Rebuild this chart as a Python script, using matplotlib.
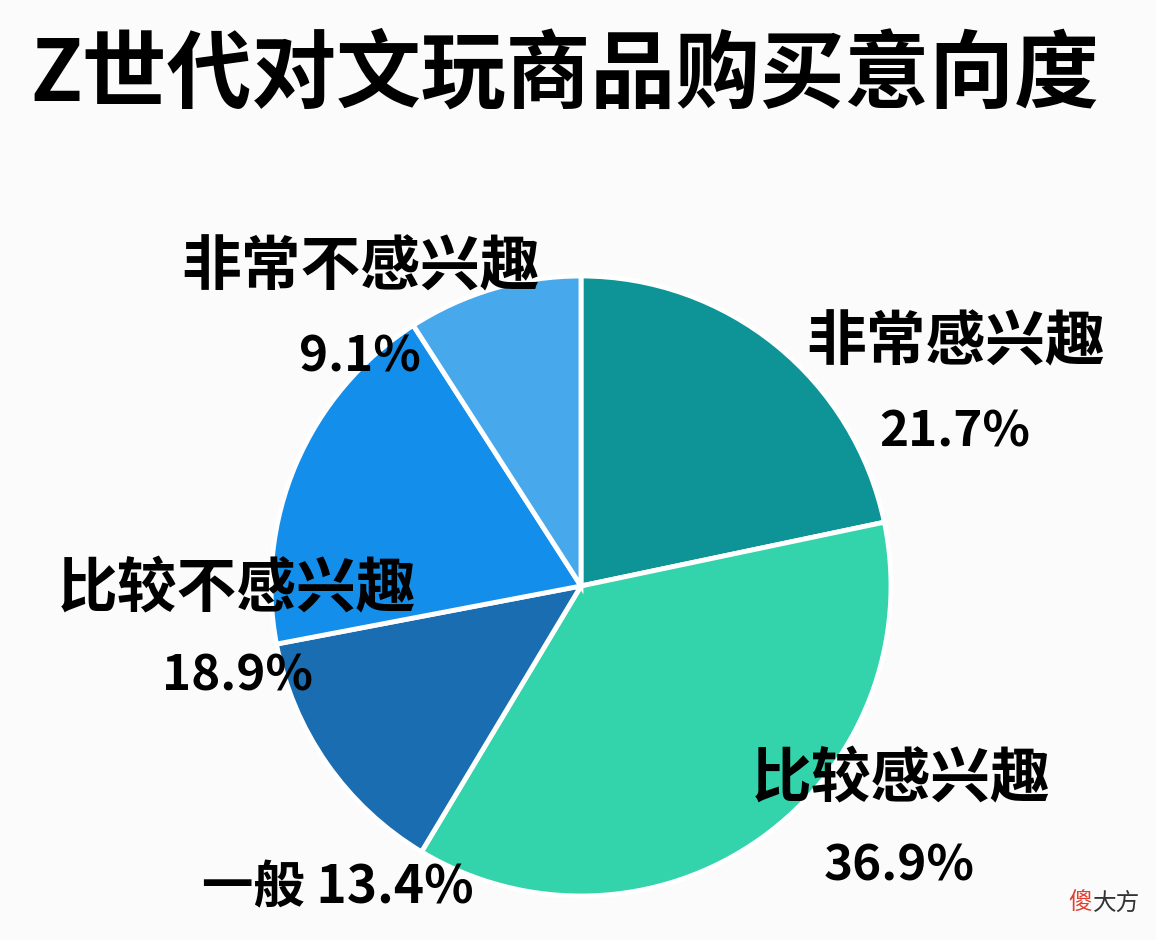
import matplotlib.pyplot as plt

plt.rcParams['font.family'] = ['Noto Sans CJK SC', 'DejaVu Sans']

# 数据
labels = ['非常感兴趣', '比较感兴趣', '一般', '比较不感兴趣', '非常不感兴趣']
values = [21.7, 36.9, 13.4, 18.9, 9.1]
colors = ['#0E9497', '#33D3AC', '#1A6DB0', '#138EEA', '#47A9EC']

W, H = 1156, 940
fig = plt.figure(figsize=(W / 100, H / 100), dpi=100)
fig.patch.set_facecolor('#FCFBFC')
ax = fig.add_axes([0, 0, 1, 1])
ax.set_aspect('equal')
ax.axis('off')

ax.pie(values, colors=colors, startangle=90, counterclock=False,
       center=(581, H - 586), radius=310,
       wedgeprops=dict(edgecolor='white', linewidth=3.5))
ax.set_xlim(0, W)
ax.set_ylim(0, H)

# 标题
ax.text(565, H - 75, 'Z世代对文玩商品购买意向度', fontsize=61, fontweight='black',
        ha='center', va='center', color='black')

# 标签位置 (像素)
label_pos = {
    '非常感兴趣': ((956, 343), (955, 432)),
    '比较感兴趣': ((901, 780), (899, 866)),
    '比较不感兴趣': ((237, 590), (237, 676)),
    '非常不感兴趣': ((361, 268), (360, 357)),
}
for name, val in zip(labels, values):
    if name == '一般':
        ax.text(338, H - 888, f'{name} {val}%', fontsize=37, fontweight='bold',
                ha='center', va='center')
        continue
    (lx, ly), (px, py) = label_pos[name]
    ax.text(lx, H - ly, name, fontsize=43, fontweight='bold',
            ha='center', va='center')
    ax.text(px, H - py, f'{val}%', fontsize=35.5, fontweight='bold',
            ha='center', va='center')

# 水印
ax.text(1068, H - 903, '傻', fontsize=17, color='#E0402F', ha='left', va='center')
ax.text(1093, H - 903, '大方', fontsize=17, color='#333333', ha='left', va='center')

fig.savefig('out.png', dpi=100, facecolor=fig.get_facecolor())
